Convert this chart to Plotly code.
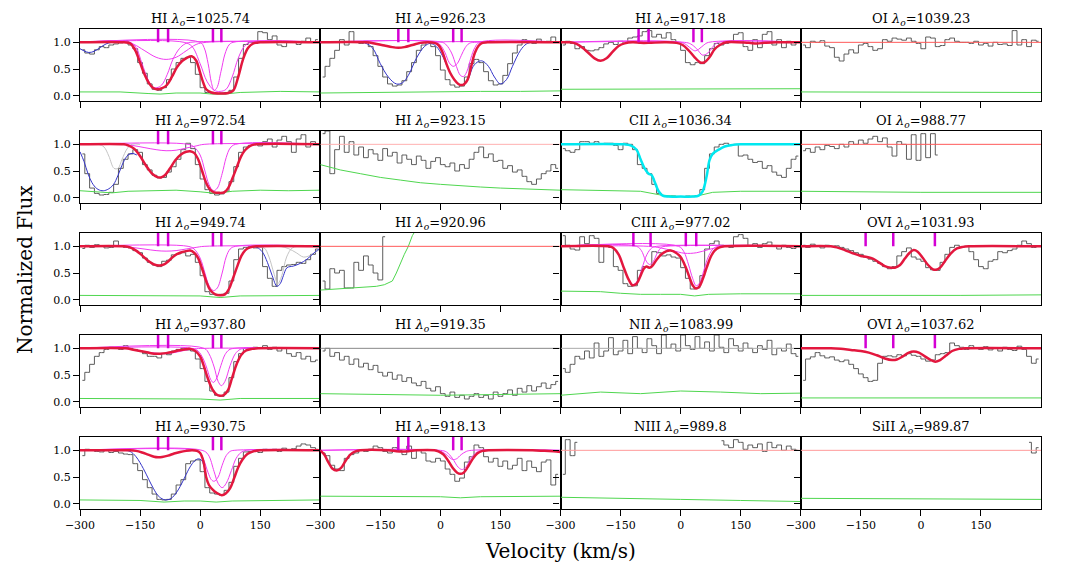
import plotly.graph_objects as go
from plotly.subplots import make_subplots

# ---------------- axis / label data ----------------
VEL = list(range(-294, 300, 12))          # 50 velocity bin centres (km/s)
XTICKS = [-300, -150, 0, 150]
XTICK_TEXT = ["\u2212300", "\u2212150", "0", "150"]
YTICKS = [0, 0.5, 1.0]
YTICK_TEXT = ["0.0", "0.5", "1.0"]

IONS = ["HI", "HI", "HI", "OI",
        "HI", "HI", "CII", "OI",
        "HI", "HI", "CIII", "OVI",
        "HI", "HI", "NII", "OVI",
        "HI", "HI", "NIII", "SiII"]
WAVES = ["1025.74", "926.23", "917.18", "1039.23",
         "972.54", "923.15", "1036.34", "988.77",
         "949.74", "920.96", "977.02", "1031.93",
         "937.80", "919.35", "1083.99", "1037.62",
         "930.75", "918.13", "989.8", "989.87"]

HI_COMP_V = [-105, -80, 32, 53]
CIII_COMP_V = [-118, -75, 13, 39]
OVI_COMP_V = [-138, -69, 35]

N = None
# ---------------- observed flux (binned) ----------------
FLUX_HI1025 = [0.86, 0.80, 0.78, 0.86, 0.92, 0.90, 0.95, 0.97, 0.99, 1.03,
               0.95, 0.88, 0.62, 0.42, 0.22, 0.12, 0.10, 0.15, 0.30, 0.50,
               0.62, 0.70, 0.72, 0.62, 0.40, 0.15, 0.06, 0.05, 0.04, 0.05,
               0.06, 0.10, 0.35, 0.70, 0.96, 1.00, 0.98, 1.20, 1.18, 1.05,
               1.12, 0.95, 0.92, 1.00, 1.00, 0.96, 1.02, 1.08, 1.00, 1.05]
FLUX_HI926 = [0.35, 0.55, 0.70, 0.85, 1.05, 0.95, 1.20, 1.00, 0.98, 1.02,
              0.92, 0.75, 0.55, 0.35, 0.22, 0.18, 0.20, 0.28, 0.45, 0.62,
              0.85, 0.95, 1.00, 0.92, 0.75, 0.48, 0.30, 0.20, 0.16, 0.18,
              0.35, 0.60, 0.68, 0.62, 0.45, 0.28, 0.20, 0.22, 0.38, 0.60,
              0.80, 0.95, 1.05, 1.00, 0.98, 1.06, 1.00, 1.02, 1.10, 1.00]
FLUX_HI917 = [0.95, 1.02, 0.98, 0.88, 0.92, 0.85, 0.84, 0.86, 0.90, 0.97,
              1.00, 0.96, 1.02, 0.98, 1.08, 1.10, 1.12, 1.20, 1.22, 1.10,
              1.15, 1.08, 1.18, 1.05, 0.98, 0.85, 0.62, 0.58, 0.62, 0.60,
              0.75, 0.88, 0.98, 0.95, 0.98, 1.02, 1.15, 1.18, 0.92, 0.85,
              1.05, 0.90, 1.15, 1.20, 0.95, 1.05, 0.90, 1.02, 0.95, 1.00]
FLUX_OI1039 = [0.95, 0.90, 1.02, 1.00, 1.03, 0.93, 0.90, 0.72, 0.65, 0.78,
               0.86, 0.80, 0.95, 0.98, 0.92, 0.85, 0.88, 1.05, 1.02, 1.08,
               1.06, 1.04, 1.08, 1.02, 0.98, 0.88, 1.10, 1.08, 0.92, 0.94,
               1.05, 1.08, 1.02, 1.00, 1.00, 0.98, 1.02, 0.95, 0.98, 0.93,
               1.00, 0.96, 0.97, 0.94, 1.22, 0.95, 1.05, 0.92, 1.04, 1.02]
FLUX_HI972 = [0.82, 0.45, 0.18, 0.08, 0.05, 0.06, 0.10, 0.25, 0.55, 0.72,
              0.82, 0.90, 0.85, 0.62, 0.52, 0.42, 0.37, 0.38, 0.48, 0.58,
              0.72, 0.90, 1.02, 0.92, 0.62, 0.35, 0.15, 0.08, 0.05, 0.07,
              0.12, 0.30, 0.58, 0.85, 0.95, 0.98, 1.02, 0.97, 1.05, 1.10,
              0.95, 1.08, 1.15, 1.05, 0.85, 1.10, 1.18, 0.95, 1.05, 1.00]
FLUX_HI923 = [1.20, 1.25, 0.45, 0.90, 1.15, 0.85, 1.05, 0.80, 0.95, 0.75,
              0.90, 0.82, 0.70, 0.92, 0.78, 0.85, 0.65, 0.80, 0.72, 0.62,
              0.78, 0.70, 0.55, 0.68, 0.75, 0.62, 0.58, 0.65, 0.50, 0.62,
              0.55, 0.72, 0.85, 0.95, 0.75, 0.82, 0.68, 0.70, 0.55, 0.60,
              0.48, 0.52, 0.40, 0.30, 0.25, 0.35, 0.45, 0.50, 0.62, 0.55]
FLUX_CII1036 = [0.92, 0.88, 0.85, 0.90, 1.05, 1.05, 1.02, 1.05, 1.00, 1.02,
                1.02, 0.98, 0.90, 1.02, 1.00, 0.90, 0.62, 0.55, 0.45, 0.25,
                0.08, 0.04, 0.02, 0.03, 0.02, 0.02, 0.03, 0.02, 0.04, 0.15,
                0.55, 0.82, 0.95, 1.00, 1.02, 0.98, 1.00, 0.78, 0.80, 0.72,
                0.66, 0.68, 0.55, 0.60, 0.48, 0.42, 0.38, 0.55, 0.72, 0.78]
FLUX_OI988 = [0.88, 0.92, 0.85, 0.95, 0.90, 0.98, 0.96, 0.92, 1.00, 0.95,
              1.05, 1.00, 1.08, 1.02, 1.10, 1.15, 1.05, 1.12, 0.95, 0.78,
              1.05, 1.00, 0.72, 1.18, 0.70, 1.20, 0.75, 1.20, 0.80, N,
              N, N, N, N, N, N, N, N, N, N,
              N, N, N, N, N, N, N, N, N, N]
FLUX_HI949 = [0.96, 1.02, 0.98, 1.03, 1.00, 0.97, 0.98, 1.10, 1.00, 0.98,
              0.97, 0.92, 0.88, 0.78, 0.70, 0.65, 0.62, 0.72, 0.74, 0.84,
              0.86, 0.88, 0.82, 0.85, 0.70, 0.45, 0.15, 0.10, 0.09, 0.10,
              0.12, 0.35, 0.75, 0.95, 0.98, 1.00, 0.97, 0.99, 0.62, 0.40,
              0.25, 0.55, 0.62, 0.65, 0.66, 0.70, 0.68, 0.75, 0.85, 0.95]
FLUX_HI920 = [0.35, 0.20, 0.58, 0.50, 0.55, 0.22, 0.22, 0.70, 0.55, 0.82,
              0.65, 0.50, 0.37, 1.18, N, N, N, N, N, N,
              N, N, N, N, N, N, N, N, N, N,
              N, N, N, N, N, N, N, N, N, N,
              N, N, N, N, N, N, N, N, N, N]
FLUX_CIII977 = [1.20, 1.02, 0.95, 0.93, 1.18, 1.05, 1.20, 1.15, 0.70, 1.02,
                0.98, 0.62, 0.55, 0.30, 0.25, 0.26, 0.55, 0.62, 0.60, 0.90,
                0.88, 0.82, 0.84, 0.80, 0.78, 0.60, 0.40, 0.20, 0.22, 0.45,
                0.95, 1.05, 1.10, 1.02, 1.00, 0.98, 1.18, 1.22, 1.15, 1.00,
                1.05, 0.98, 1.05, 1.08, 1.00, 0.95, 1.02, 0.98, 0.96, 1.00]
FLUX_OVI1031 = [1.02, 0.98, 1.04, 1.00, 0.97, 1.02, 1.00, 1.01, 0.98, 0.95,
                0.92, 0.88, 0.85, 0.80, 0.76, 0.72, 0.68, 0.62, 0.58, 0.62,
                0.82, 0.90, 0.97, 0.80, 0.76, 0.72, 0.60, 0.56, 0.55, 0.70,
                0.85, 0.98, 1.02, 0.98, 1.00, 0.90, 0.75, 0.62, 0.58, 0.72,
                0.75, 0.90, 0.88, 0.92, 0.95, 1.02, 1.10, 1.05, 0.98, 1.00]
FLUX_HI937 = [0.40, 0.55, 0.70, 0.85, 0.92, 0.98, 1.02, 1.00, 0.98, 1.05,
              1.00, 0.98, 0.95, 0.90, 0.85, 0.85, 0.82, 0.90, 0.88, 0.95,
              0.98, 1.00, 0.97, 0.95, 0.80, 0.62, 0.38, 0.20, 0.12, 0.10,
              0.18, 0.45, 0.75, 0.90, 1.00, 0.98, 1.02, 1.00, 1.05, 0.98,
              1.02, 0.95, 1.00, 0.90, 0.85, 0.92, 0.80, 0.85, 0.75, 0.78]
FLUX_HI919 = [0.95, 1.00, 0.85, 0.92, 0.78, 0.85, 0.70, 0.80, 0.65, 0.72,
              0.60, 0.68, 0.55, 0.48, 0.55, 0.42, 0.50, 0.38, 0.45, 0.35,
              0.30, 0.38, 0.25, 0.20, 0.28, 0.15, 0.10, 0.18, 0.08, 0.12,
              0.05, 0.10, 0.15, 0.08, 0.12, 0.05, 0.18, 0.10, 0.15, 0.22,
              0.12, 0.25, 0.18, 0.30, 0.20, 0.28, 0.35, 0.25, 0.32, 0.38]
FLUX_NII1083 = [0.62, 0.55, 0.70, 0.85, 0.80, 0.95, 0.82, 1.10, 0.85, 0.95,
                1.20, 0.88, 0.95, 1.15, 0.90, 1.22, 1.00, 0.92, 1.18, 1.05,
                0.90, 1.25, 1.00, 1.08, 0.95, 1.25, 1.05, 0.98, 1.22, 1.00,
                1.12, 0.95, 1.25, 1.02, 0.92, 1.18, 1.05, 0.95, 1.10, 1.00,
                0.92, 1.05, 0.98, 1.15, 0.88, 1.00, 0.95, 1.08, 0.90, 0.85]
FLUX_OVI1037 = [0.40, 0.80, 0.84, 0.92, 0.86, 0.82, 0.84, 0.78, 0.75, 0.78,
                0.70, 0.62, 0.52, 0.45, 0.38, 0.40, 0.72, 0.85, 0.86, 0.84,
                0.88, 0.86, 0.90, 0.87, 0.85, 0.80, 0.76, 0.78, 0.88, 0.90,
                0.92, 1.10, 1.05, 1.02, 0.98, 1.05, 1.00, 0.98, 1.03, 0.97,
                1.00, 0.95, 1.02, 0.98, 0.96, 1.04, 0.98, 0.85, 0.72, 0.80]
FLUX_HI930 = [0.90, 1.02, 1.00, 0.98, 0.97, 1.00, 0.96, 0.98, 0.95, 0.93,
              0.92, 0.75, 0.62, 0.45, 0.30, 0.18, 0.08, 0.07, 0.08, 0.18,
              0.35, 0.45, 0.75, 0.80, 0.82, 0.60, 0.30, 0.20, 0.18, 0.16,
              0.25, 0.40, 0.70, 0.85, 0.97, 0.98, 1.00, 0.96, 1.02, 1.00,
              1.02, 0.98, 1.04, 1.00, 1.03, 1.08, 1.12, 1.10, 1.05, 1.02]
FLUX_HI918 = [0.95, 0.90, 0.72, 0.65, 0.62, 0.85, 0.92, 0.95, 1.00, 0.98,
              1.02, 1.08, 1.05, 0.98, 0.95, 1.05, 1.00, 0.92, 1.08, 0.85,
              1.00, 0.95, 0.80, 0.78, 0.85, 0.80, 0.65, 0.55, 0.42, 0.48,
              0.78, 0.88, 1.10, 1.05, 0.88, 0.78, 0.85, 0.70, 0.80, 0.65,
              0.72, 0.85, 0.62, 0.80, 0.68, 0.60, 0.78, 0.82, 0.35, 0.55]
FLUX_NIII989 = [0.55, 1.20, 0.90, 1.15, N, N, N, N, N, N,
                N, N, N, N, N, N, N, N, N, N,
                N, N, N, N, N, N, N, N, N, N,
                N, N, N, 1.18, 1.10, 1.05, 1.20, 1.15, 1.02, 1.10,
                1.05, 1.12, 0.98, 1.15, 1.05, 1.10, 1.00, 1.08, 1.02, 1.00]
FLUX_SIII989 = [N, N, N, N, N, N, N, N, N, N,
                N, N, N, N, N, N, N, N, N, N,
                N, N, N, N, N, N, N, N, N, N,
                N, N, N, N, N, N, N, N, N, N,
                N, N, N, N, N, N, N, 1.15, 0.95, 1.05]

# ---------------- flux errors (velocity, sigma) ----------------
ERR_HI1025 = [(-300, .07), (-200, .07), (-130, .04), (-100, .03), (-60, .05), (0, .05), (30, .03), (60, .03), (100, .06), (200, .08), (300, .07)]
ERR_HI926 = [(-300, .05), (-200, .06), (-100, .06), (0, .07), (100, .08), (200, .08), (300, .09)]
ERR_HI917 = [(-300, .12), (0, .12), (300, .13)]
ERR_OI1039 = [(-300, .07), (0, .06), (300, .06)]
ERR_HI972 = [(-300, .13), (-260, .11), (-220, .09), (-180, .12), (-120, .13), (-60, .14), (0, .11), (40, .08), (80, .12), (150, .14), (220, .13), (300, .14)]
ERR_HI923 = [(-300, .62), (-250, .52), (-200, .45), (-150, .38), (-100, .33), (-50, .28), (0, .25), (50, .22), (100, .2), (150, .18), (200, .17), (300, .14)]
ERR_CII1036 = [(-300, .15), (-200, .14), (-100, .12), (-50, .05), (0, .02), (40, .03), (80, .1), (150, .12), (300, .12)]
ERR_OI988 = [(-300, .12), (0, .1), (300, .1)]
ERR_HI949 = [(-300, .08), (0, .07), (50, .04), (100, .07), (300, .08)]
ERR_HI920 = [(-300, .18), (-250, .2), (-200, .22), (-160, .25), (-140, .28), (-120, .35), (-110, .5), (-100, .68), (-90, .85), (-80, 1.0), (-70, 1.2), (-62, 1.3)]
ERR_CIII977 = [(-300, .16), (-200, .15), (-150, .12), (-100, .1), (-50, .1), (0, .1), (35, .07), (70, .1), (150, .11), (300, .11)]
ERR_OVI1031 = [(-300, .08), (0, .07), (100, .08), (300, .09)]
ERR_HI937 = [(-300, .06), (0, .05), (50, .03), (100, .06), (300, .06)]
ERR_HI919 = [(-300, .15), (0, .12), (300, .15)]
ERR_NII1083 = [(-300, .12), (-200, .18), (-100, .15), (0, .2), (100, .18), (200, .15), (300, .16)]
ERR_OVI1037 = [(-300, .07), (0, .07), (300, .07)]
ERR_HI930 = [(-300, .07), (-150, .06), (-90, .03), (-40, .05), (0, .05), (40, .03), (80, .05), (150, .06), (300, .07)]
ERR_HI918 = [(-300, .14), (-150, .14), (0, .13), (50, .11), (100, .13), (300, .14)]
ERR_NIII989 = [(-300, .12), (-100, .1), (0, .08), (150, .06), (300, .04)]
ERR_SIII989 = [(-300, .1), (0, .09), (300, .08)]

# ---------------- model profiles (velocity, normalised flux) ----------------
RED_HI1025 = [(-300, 1), (-190, 1), (-175, .98), (-162, .85), (-150, .62), (-139, .4), (-129, .25), (-118, .15), (-108, .12), (-95, .14), (-83, .2), (-70, .36), (-58, .53), (-45, .65), (-33, .71), (-21, .74), (-10, .66), (0, .43), (8, .24), (15, .12), (28, .06), (50, .04), (70, .05), (83, .1), (95, .35), (108, .7), (120, .9), (133, .98), (150, 1), (300, 1)]
MAG_HI1025 = [
    [(-300, 1), (-185, 1), (-165, .96), (-140, .85), (-110, .72), (-85, .68), (-60, .72), (-35, .84), (-10, .96), (15, 1), (300, 1)],
    [(-300, 1), (-175, 1), (-160, .9), (-145, .6), (-130, .3), (-118, .16), (-108, .15), (-96, .2), (-82, .4), (-68, .68), (-52, .88), (-38, .97), (-25, 1), (300, 1)],
    [(-300, 1), (-40, 1), (-20, .92), (0, .6), (17, .27), (35, .1), (50, .08), (65, .12), (80, .35), (95, .7), (110, .92), (125, 1), (300, 1)],
    [(-300, 1), (0, 1), (10, .9), (20, .6), (28, .25), (35, .1), (42, .15), (52, .45), (62, .78), (72, .95), (82, 1), (300, 1)]]
BLUE_HI1025 = [(-300, .88), (-290, .84), (-278, .81), (-265, .83), (-250, .9), (-235, .97), (-220, 1.0), (-195, 1.0)]

RED_HI926 = [(-300, 1), (-185, 1), (-165, .98), (-140, .94), (-120, .91), (-105, .9), (-90, .91), (-70, .95), (-50, .99), (-30, 1), (-15, .99), (-5, .95), (5, .82), (15, .6), (25, .42), (35, .3), (45, .22), (52, .2), (60, .22), (68, .3), (77, .55), (86, .8), (95, .93), (105, .99), (118, 1), (300, 1)]
MAG_HI926 = [
    [(-300, 1), (-180, 1), (-155, .97), (-130, .93), (-105, .9), (-80, .93), (-55, .97), (-30, 1), (300, 1)],
    [(-300, 1), (-10, 1), (0, .95), (12, .8), (22, .62), (32, .55), (42, .6), (52, .75), (62, .9), (72, .98), (85, 1), (300, 1)],
    [(-300, 1), (5, 1), (15, .95), (28, .8), (40, .55), (50, .38), (58, .36), (66, .45), (76, .7), (86, .9), (98, 1), (300, 1)]]
BLUE_HI926 = [(-300, 1), (-190, .99), (-170, .9), (-150, .6), (-130, .35), (-110, .22), (-95, .24), (-80, .38), (-60, .7), (-40, .92), (-25, .98), (-10, .92), (5, .75), (20, .5), (35, .3), (50, .2), (60, .22), (70, .32), (82, .55), (95, .64), (105, .65), (120, .55), (135, .35), (150, .22), (165, .3), (180, .55), (200, .85), (215, .97), (230, 1), (300, 1)]

RED_HI917 = [(-300, 1), (-275, 1), (-260, .97), (-245, .9), (-230, .8), (-215, .7), (-200, .655), (-185, .7), (-170, .82), (-155, .93), (-140, .98), (-120, 1), (-100, .99), (-80, .99), (-40, 1), (-10, .99), (5, .95), (20, .85), (35, .72), (50, .62), (60, .63), (72, .72), (85, .87), (100, .96), (115, 1), (170, .99), (190, .98), (210, .99), (240, 1), (300, 1)]
MAG_HI917 = [
    [(-300, 1), (0, 1), (15, .95), (28, .87), (36, .84), (45, .87), (58, .95), (70, 1), (300, 1)],
    [(-300, 1), (10, 1), (25, .97), (40, .88), (55, .76), (68, .8), (82, .93), (95, 1), (300, 1)]]

RED_HI972 = [(-300, 1), (-190, 1), (-180, .98), (-165, .92), (-150, .78), (-135, .6), (-120, .45), (-108, .39), (-98, .38), (-88, .42), (-75, .55), (-62, .7), (-48, .81), (-35, .86), (-25, .87), (-15, .84), (-5, .72), (5, .5), (15, .28), (25, .15), (35, .1), (48, .09), (60, .1), (70, .18), (80, .35), (92, .58), (102, .77), (112, .89), (125, .97), (140, 1), (300, 1)]
MAG_HI972 = [
    [(-300, 1), (-200, 1), (-170, .98), (-140, .94), (-110, .9), (-85, .88), (-60, .89), (-35, .93), (-10, .97), (10, 1), (300, 1)],
    [(-300, 1), (-30, 1), (-15, .95), (0, .8), (12, .5), (22, .25), (33, .13), (43, .18), (55, .45), (65, .75), (75, .93), (88, 1), (300, 1)]]
BLUE_HI972 = [(-300, .86), (-290, .68), (-280, .45), (-270, .28), (-258, .17), (-245, .13), (-232, .15), (-217, .24), (-205, .42), (-192, .66), (-180, .8), (-170, .83), (-158, .8)]
GRAY_HI972 = [[(-300, 1), (-255, 1), (-240, .95), (-228, .78), (-215, .55), (-205, .55), (-195, .72), (-182, .92), (-170, 1), (-150, 1)]]

CYAN_CII1036 = [(-300, 1), (-140, 1), (-125, .98), (-110, .9), (-100, .72), (-90, .55), (-80, .45), (-72, .42), (-65, .3), (-55, .12), (-45, .04), (-30, .02), (0, .02), (30, .02), (45, .04), (55, .12), (65, .4), (72, .7), (80, .82), (95, .9), (110, .96), (130, .99), (150, 1), (300, 1)]

RED_HI949 = [(-300, 1), (-190, 1), (-175, .98), (-160, .92), (-145, .83), (-130, .73), (-115, .66), (-102, .64), (-90, .66), (-78, .73), (-65, .82), (-50, .88), (-35, .91), (-25, .92), (-15, .88), (-5, .78), (5, .58), (15, .35), (25, .18), (38, .1), (50, .085), (62, .1), (72, .2), (82, .4), (93, .63), (103, .82), (113, .93), (125, .98), (140, 1), (300, 1)]
MAG_HI949 = [
    [(-300, 1), (-200, 1), (-170, .98), (-140, .95), (-110, .92), (-85, .91), (-60, .92), (-35, .95), (-10, .98), (10, 1), (300, 1)],
    [(-300, 1), (-30, 1), (-15, .95), (0, .78), (12, .5), (22, .27), (33, .17), (43, .22), (55, .5), (65, .8), (75, .95), (88, 1), (300, 1)]]
BLUE_HI949 = [(130, 1), (142, .98), (155, .9), (168, .7), (180, .45), (192, .25), (200, .3), (208, .45), (217, .6), (233, .63), (250, .68), (267, .76), (285, .88), (300, .97)]
GRAY_HI949 = [[(140, 1), (160, .97), (172, .8), (184, .5), (194, .3), (204, .45), (216, .8), (230, .97), (245, 1)],
              [(200, 1), (220, .96), (240, .88), (258, .8), (275, .83), (290, .9), (300, .94)]]

RED_CIII977 = [(-300, 1), (-180, 1), (-168, .97), (-155, .85), (-142, .6), (-130, .38), (-120, .27), (-110, .3), (-100, .45), (-92, .58), (-85, .62), (-78, .6), (-70, .64), (-60, .75), (-48, .85), (-35, .91), (-25, .92), (-12, .88), (0, .8), (12, .62), (22, .42), (30, .27), (38, .21), (46, .24), (55, .38), (65, .6), (75, .8), (85, .92), (97, .98), (110, 1), (300, 1)]
MAG_CIII977 = [
    [(-300, 1), (-175, 1), (-160, .92), (-145, .65), (-132, .4), (-120, .28), (-108, .35), (-96, .6), (-84, .85), (-72, .97), (-60, 1), (300, 1)],
    [(-300, 1), (-110, 1), (-98, .92), (-88, .75), (-78, .66), (-68, .72), (-58, .88), (-48, .98), (-38, 1), (300, 1)],
    [(-300, 1), (-80, 1), (-50, .97), (-20, .92), (10, .87), (40, .88), (70, .94), (100, .99), (120, 1), (300, 1)],
    [(-300, 1), (-5, 1), (8, .9), (20, .65), (30, .4), (39, .26), (48, .32), (58, .55), (70, .82), (82, .96), (95, 1), (300, 1)]]

RED_OVI1031 = [(-300, 1), (-225, 1), (-210, .98), (-190, .93), (-170, .87), (-150, .82), (-135, .8), (-120, .77), (-105, .7), (-90, .63), (-75, .6), (-65, .6), (-52, .65), (-40, .77), (-28, .88), (-18, .93), (-8, .9), (5, .78), (18, .65), (30, .57), (38, .56), (48, .6), (60, .72), (75, .87), (90, .96), (105, .99), (120, 1), (300, 1)]

RED_HI937 = [(-300, 1), (-185, 1), (-170, .98), (-150, .95), (-130, .92), (-115, .9), (-100, .9), (-85, .91), (-70, .93), (-55, .96), (-40, .98), (-25, .99), (-12, .95), (0, .85), (10, .65), (20, .42), (30, .24), (40, .14), (50, .11), (60, .13), (70, .22), (80, .45), (92, .72), (103, .88), (115, .96), (130, .99), (145, 1), (300, 1)]
MAG_HI937 = [
    [(-300, 1), (-200, 1), (-170, .98), (-140, .94), (-110, .91), (-90, .9), (-65, .92), (-40, .96), (-15, .99), (10, 1), (300, 1)],
    [(-300, 1), (-20, 1), (-5, .95), (8, .8), (18, .6), (26, .42), (33, .36), (42, .45), (52, .68), (62, .88), (72, .97), (85, 1), (300, 1)],
    [(-300, 1), (10, 1), (22, .9), (35, .65), (45, .38), (53, .3), (62, .38), (75, .68), (88, .9), (100, .98), (115, 1), (300, 1)]]

RED_OVI1037 = [(-300, 1), (-225, 1), (-200, .99), (-175, .97), (-150, .95), (-130, .92), (-110, .87), (-90, .81), (-72, .78), (-60, .79), (-45, .85), (-30, .92), (-18, .94), (-5, .92), (10, .85), (25, .78), (36, .75), (48, .78), (62, .86), (78, .95), (95, .99), (110, 1), (300, 1)]

RED_HI930 = [(-300, 1), (-175, 1), (-160, .99), (-145, .96), (-130, .92), (-115, .88), (-105, .87), (-95, .875), (-80, .9), (-65, .94), (-50, .97), (-35, .99), (-20, 1), (-8, .99), (0, .95), (8, .8), (15, .5), (22, .35), (32, .26), (42, .2), (54, .16), (64, .19), (75, .29), (85, .48), (95, .68), (105, .82), (118, .93), (133, .98), (150, 1), (300, 1)]
MAG_HI930 = [
    [(-300, 1), (-10, 1), (0, .95), (10, .8), (20, .58), (28, .45), (35, .42), (45, .5), (55, .72), (65, .9), (75, .98), (85, 1), (300, 1)],
    [(-300, 1), (5, 1), (20, .92), (35, .6), (45, .38), (55, .3), (65, .38), (78, .62), (90, .85), (102, .96), (115, 1), (300, 1)]]
BLUE_HI930 = [(-190, 1), (-175, .98), (-160, .88), (-142, .66), (-128, .45), (-117, .29), (-105, .15), (-92, .08), (-83, .07), (-72, .1), (-60, .2), (-50, .32), (-38, .5), (-25, .69), (-14, .8), (-5, .84), (3, .82), (10, .7), (16, .5)]

RED_HI918 = [(-300, 1), (-290, .92), (-280, .78), (-270, .66), (-259, .62), (-248, .67), (-237, .8), (-225, .92), (-212, .98), (-200, 1), (-130, 1), (-110, .985), (-95, .98), (-80, .985), (-60, 1), (-15, 1), (-5, .98), (8, .92), (20, .8), (32, .66), (42, .58), (50, .56), (58, .58), (68, .68), (80, .83), (92, .94), (105, .99), (120, 1), (230, 1), (260, .99), (290, .98), (300, .97)]
MAG_HI918 = [
    [(-300, 1), (-10, 1), (5, .97), (18, .9), (30, .83), (40, .84), (52, .92), (65, .98), (78, 1), (300, 1)],
    [(-300, 1), (0, 1), (15, .97), (30, .85), (45, .68), (55, .64), (65, .7), (78, .87), (92, .97), (105, 1), (300, 1)]]

UNITY = [(-300, 1), (300, 1)]

# ---------------- styling ----------------
C_DATA = "#5c5c5c"
C_ERR = "#4fd64f"
C_RED = "#e3173e"
C_MAG = "#f03cf0"
C_TICK = "#d400d4"
C_BLUE = "#3434c8"
C_GRAY = "#c4c4c4"
C_CYAN = "#00e8f0"
C_UNITY = "#ff5a5a"
FONT = "DejaVu Serif"

PANELS = [
    dict(flux=FLUX_HI1025, err=ERR_HI1025, red=RED_HI1025, mags=MAG_HI1025, blue=BLUE_HI1025, ticks=HI_COMP_V),
    dict(flux=FLUX_HI926, err=ERR_HI926, red=RED_HI926, mags=MAG_HI926, blue=BLUE_HI926, ticks=HI_COMP_V),
    dict(flux=FLUX_HI917, err=ERR_HI917, red=RED_HI917, mags=MAG_HI917, ticks=HI_COMP_V),
    dict(flux=FLUX_OI1039, err=ERR_OI1039, unity=C_UNITY),
    dict(flux=FLUX_HI972, err=ERR_HI972, red=RED_HI972, mags=MAG_HI972, blue=BLUE_HI972, grays=GRAY_HI972, ticks=HI_COMP_V),
    dict(flux=FLUX_HI923, err=ERR_HI923, unity="#ffb0b0"),
    dict(flux=FLUX_CII1036, err=ERR_CII1036, cyan=CYAN_CII1036),
    dict(flux=FLUX_OI988, err=ERR_OI988, unity=C_UNITY),
    dict(flux=FLUX_HI949, err=ERR_HI949, red=RED_HI949, mags=MAG_HI949, blue=BLUE_HI949, grays=GRAY_HI949, ticks=HI_COMP_V),
    dict(flux=FLUX_HI920, err=ERR_HI920, unity=C_UNITY),
    dict(flux=FLUX_CIII977, err=ERR_CIII977, red=RED_CIII977, mags=MAG_CIII977, ticks=CIII_COMP_V),
    dict(flux=FLUX_OVI1031, err=ERR_OVI1031, red=RED_OVI1031, ticks=OVI_COMP_V),
    dict(flux=FLUX_HI937, err=ERR_HI937, red=RED_HI937, mags=MAG_HI937, ticks=HI_COMP_V),
    dict(flux=FLUX_HI919, err=ERR_HI919, unity="#888888"),
    dict(flux=FLUX_NII1083, err=ERR_NII1083, unity="#aaaaaa"),
    dict(flux=FLUX_OVI1037, err=ERR_OVI1037, red=RED_OVI1037, ticks=OVI_COMP_V),
    dict(flux=FLUX_HI930, err=ERR_HI930, red=RED_HI930, mags=MAG_HI930, blue=BLUE_HI930, ticks=HI_COMP_V),
    dict(flux=FLUX_HI918, err=ERR_HI918, red=RED_HI918, mags=MAG_HI918, ticks=HI_COMP_V),
    dict(flux=FLUX_NIII989, err=ERR_NIII989, unity="#ff9a9a"),
    dict(flux=FLUX_SIII989, err=ERR_SIII989, unity="#ff9a9a"),
]

W, H = 1065, 581
ML, MR, MT, MB = 80, 24, 29, 72
NR, NC = 5, 4

fig = make_subplots(rows=NR, cols=NC, horizontal_spacing=0,
                    vertical_spacing=30 / (H - MT - MB))


def xy(pairs):
    return [p[0] for p in pairs], [p[1] for p in pairs]


def line(pairs, color, width, shape="spline"):
    x, y = xy(pairs)
    return go.Scatter(x=x, y=y, mode="lines", hoverinfo="skip", showlegend=False,
                      line=dict(color=color, width=width, shape=shape))


for i, p in enumerate(PANELS):
    r, c = i // NC + 1, i % NC + 1
    add = lambda tr: fig.add_trace(tr, row=r, col=c)
    add(go.Scatter(x=VEL, y=p["flux"], mode="lines", hoverinfo="skip", showlegend=False,
                   connectgaps=False, line=dict(color=C_DATA, width=1, shape="hvh")))
    add(line(p["err"], C_ERR, 1, "linear"))
    if "unity" in p:
        add(line(UNITY, p["unity"], 1, "linear"))
    for g in p.get("grays", []):
        add(line(g, C_GRAY, 1))
    if "blue" in p:
        add(line(p["blue"], C_BLUE, 1))
    for m in p.get("mags", []):
        add(line(m, C_MAG, 1))
    if "red" in p:
        add(line(p["red"], C_RED, 2.5))
    if "cyan" in p:
        add(line(p["cyan"], C_CYAN, 2.5))
    if "ticks" in p:
        tx, ty = [], []
        for v in p["ticks"]:
            tx += [v, v, None]
            ty += [1.0, 1.3, None]
        add(go.Scatter(x=tx, y=ty, mode="lines", hoverinfo="skip", showlegend=False,
                       line=dict(color=C_TICK, width=2.5)))

axis_common = dict(showgrid=False, zeroline=False, showline=True, mirror=True,
                   linecolor="black", linewidth=1.2, ticks="outside", ticklen=6,
                   tickwidth=1.3, tickcolor="black",
                   tickfont=dict(family=FONT, size=11, color="black"))
for i in range(NR * NC):
    r, c = i // NC + 1, i % NC + 1
    fig.update_xaxes(axis_common, range=[-300, 300], tickvals=XTICKS, ticktext=XTICK_TEXT,
                     showticklabels=(r == NR), row=r, col=c)
    fig.update_yaxes(axis_common, range=[-0.1, 1.25], tickvals=YTICKS, ticktext=YTICK_TEXT,
                     showticklabels=(c == 1), row=r, col=c)

PW = W - ML - MR
PH = H - MT - MB
annotations = []
for i in range(NR * NC):
    r, c = i // NC, i % NC
    xc = (240.25 * c + 120.1) / PW
    ytop = (PH - 102 * r) / PH
    annotations.append(dict(
        x=xc, y=ytop, xref="paper", yref="paper", xanchor="center", yanchor="bottom",
        yshift=-1, showarrow=False,
        text=f"{IONS[i]} <i>\u03bb</i><sub><i>o</i></sub>={WAVES[i]}",
        font=dict(family=FONT, size=13, color="black")))
annotations.append(dict(x=(560.5 - ML) / PW, y=(PH + MT - 551) / PH, xref="paper", yref="paper",
                        xanchor="center", yanchor="middle",
                        showarrow=False, text="Velocity (km/s)",
                        font=dict(family=FONT, size=20, color="black")))
annotations.append(dict(x=(25 - ML) / PW, y=(PH + MT - 270) / PH, xref="paper", yref="paper",
                        xanchor="center", yanchor="middle",
                        showarrow=False, text="Normalized Flux", textangle=-90,
                        font=dict(family=FONT, size=20, color="black")))

fig.update_layout(width=W, height=H, margin=dict(l=ML, r=MR, t=MT, b=MB),
                  plot_bgcolor="white", paper_bgcolor="white",
                  annotations=annotations, showlegend=False)

fig.write_html("out.html")
